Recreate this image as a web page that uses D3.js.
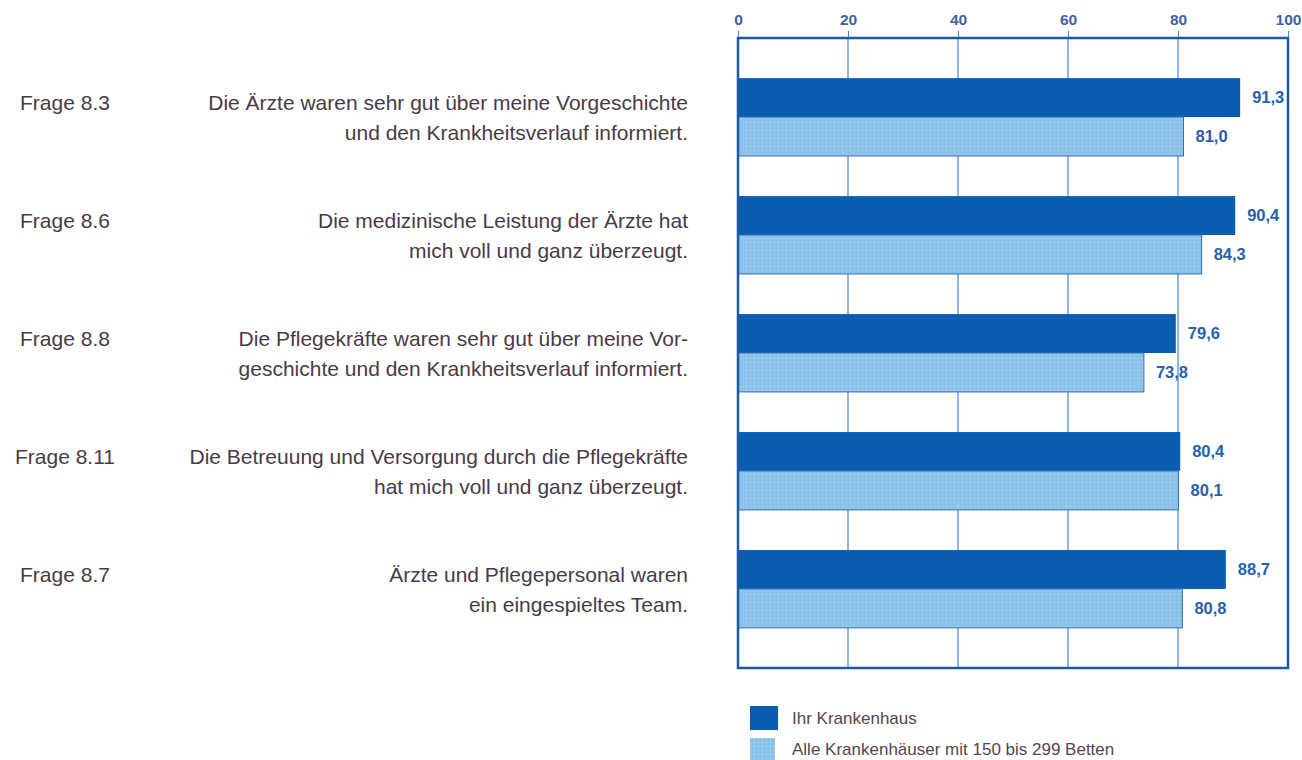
<!DOCTYPE html>
<html>
<head>
<meta charset="utf-8">
<script src="https://cdn.jsdelivr.net/npm/d3@7"></script>
<style>
  body { margin: 0; background: #fff; }
  svg { display: block; }
</style>
</head>
<body>
<div id="chart"></div>
<script>
// data
const fragen = ["Frage 8.3", "Frage 8.6", "Frage 8.8", "Frage 8.11", "Frage 8.7"];
const texte = [
  ["Die Ärzte waren sehr gut über meine Vorgeschichte", "und den Krankheitsverlauf informiert."],
  ["Die medizinische Leistung der Ärzte hat", "mich voll und ganz überzeugt."],
  ["Die Pflegekräfte waren sehr gut über meine Vor-", "geschichte und den Krankheitsverlauf informiert."],
  ["Die Betreuung und Versorgung durch die Pflegekräfte", "hat mich voll und ganz überzeugt."],
  ["Ärzte und Pflegepersonal waren", "ein eingespieltes Team."]
];
const ihrKH = [91.3, 90.4, 79.6, 80.4, 88.7];
const alleKH = [81.0, 84.3, 73.8, 80.1, 80.8];
const xTicks = [0, 20, 40, 60, 80, 100];
const legendLabels = ["Ihr Krankenhaus", "Alle Krankenhäuser mit 150 bis 299 Betten"];

const W = 1302, H = 760;
const m = {top: 38, left: 738, right: 14, bottom: 92};
const pw = W - m.left - m.right, ph = H - m.top - m.bottom;

const svg = d3.select("#chart").append("svg")
    .attr("width", W).attr("height", H);

// pattern for the light bars
const defs = svg.append("defs");
const pat = defs.append("pattern").attr("id", "hell")
    .attr("width", 4).attr("height", 4).attr("patternUnits", "userSpaceOnUse");
pat.append("rect").attr("width", 4).attr("height", 4).attr("fill", "#8ec4ea");
pat.append("rect").attr("x", 0).attr("y", 0).attr("width", 1).attr("height", 1).attr("fill", "#a9d3f0");
pat.append("rect").attr("x", 2).attr("y", 2).attr("width", 1).attr("height", 1).attr("fill", "#7fb8e2");

const g = svg.append("g").attr("transform", `translate(${m.left},${m.top})`);

const x = d3.scaleLinear().domain([0, 100]).range([0, pw]);
const y = d3.scaleBand().domain(fragen).range([0, ph]).padding(0.34);

const font = "'Liberation Sans', Arial, sans-serif";

// vertical grid
g.append("g").selectAll("line")
  .data(xTicks.slice(1, -1))
  .join("line")
    .attr("x1", d => x(d)).attr("x2", d => x(d))
    .attr("y1", 0).attr("y2", ph)
    .attr("stroke", "#4a86d0").attr("stroke-width", 1.2);

// top axis
const ax = g.append("g")
  .call(d3.axisTop(x).tickValues(xTicks).tickSize(7).tickPadding(6).tickFormat(d3.format("d")));
ax.select(".domain").remove();
ax.selectAll("line").attr("stroke", "#4a86d0");
ax.selectAll("text")
    .attr("fill", "#3f5fa6").attr("font-size", 15.5).attr("font-weight", "bold")
    .attr("font-family", font);

// bars
const half = y.bandwidth() / 2;
g.append("g").selectAll("rect")
  .data(fragen)
  .join("rect")
    .attr("x", 0).attr("y", d => y(d))
    .attr("width", (d, i) => x(ihrKH[i])).attr("height", half)
    .attr("fill", "#0a5db1");
g.append("g").selectAll("rect")
  .data(fragen)
  .join("rect")
    .attr("x", 0).attr("y", d => y(d) + half)
    .attr("width", (d, i) => x(alleKH[i])).attr("height", half)
    .attr("fill", "url(#hell)")
    .attr("stroke", "#2f6fb8").attr("stroke-width", 1);

const fmt = v => v.toFixed(1).replace(".", ",");
g.append("g").selectAll("text")
  .data(fragen)
  .join("text")
    .attr("x", (d, i) => x(ihrKH[i]) + 12).attr("y", d => y(d) + half / 2)
    .attr("dy", "0.35em")
    .attr("fill", "#2562ad").attr("font-size", 16.5).attr("font-weight", "bold")
    .attr("font-family", font)
    .text((d, i) => fmt(ihrKH[i]));
g.append("g").selectAll("text")
  .data(fragen)
  .join("text")
    .attr("x", (d, i) => x(alleKH[i]) + 12).attr("y", d => y(d) + half * 1.5)
    .attr("dy", "0.35em")
    .attr("fill", "#2a5fa8").attr("font-size", 16.5).attr("font-weight", "bold")
    .attr("font-family", font)
    .text((d, i) => fmt(alleKH[i]));

// plot frame
g.append("rect").attr("x", 0).attr("y", 0).attr("width", pw).attr("height", ph)
    .attr("fill", "none").attr("stroke", "#1d5aa6").attr("stroke-width", 2.5);

// left labels
const lbl = svg.append("g");
fragen.forEach((f, i) => {
  const yy = m.top + y(f) + 32;
  lbl.append("text")
    .attr("x", 65).attr("y", yy)
    .attr("text-anchor", "middle")
    .attr("fill", "#4a3a48").attr("font-size", 21).attr("font-family", font)
    .text(f);
  texte[i].forEach((t, j) => {
    lbl.append("text")
      .attr("x", 688).attr("y", yy + j * 30)
      .attr("text-anchor", "end")
      .attr("fill", "#4a3a48").attr("font-size", 21).attr("font-family", font)
      .text(t);
  });
});

// legend
const leg = svg.append("g").attr("transform", "translate(750,706)");
leg.append("rect").attr("x", 0).attr("y", 0).attr("width", 28).attr("height", 24).attr("fill", "#0a5db1");
leg.append("rect").attr("x", 0).attr("y", 32).attr("width", 25).attr("height", 22)
    .attr("fill", "url(#hell)");
legendLabels.forEach((t, i) => {
  leg.append("text")
    .attr("x", 42).attr("y", 12 + i * 31).attr("dy", "0.35em")
    .attr("fill", "#5a4450").attr("font-size", 17).attr("font-family", font)
    .text(t);
});
</script>
</body>
</html>
